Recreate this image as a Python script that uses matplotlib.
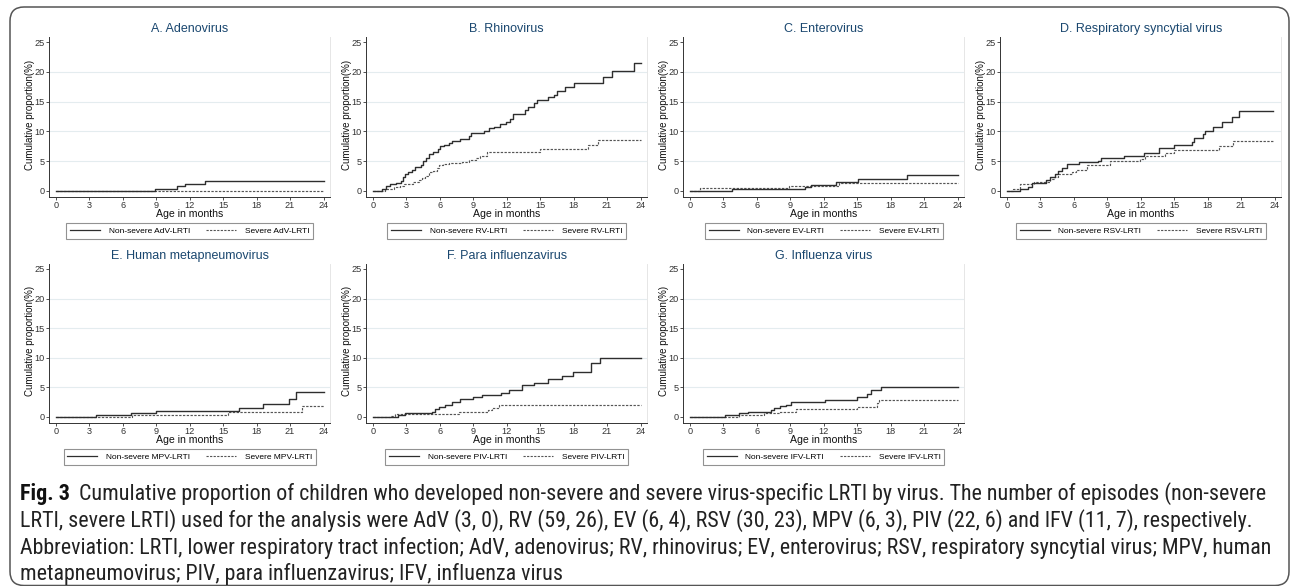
import matplotlib
matplotlib.use("Agg")
import matplotlib.pyplot as plt
from matplotlib import font_manager as fm
from matplotlib.patches import FancyBboxPatch
from matplotlib.lines import Line2D

# ---------------- data (step curves: time in months, cumulative %) ----------------
adv_ns_t = [0, 8.9, 10.9, 11.6, 13.4, 24.0]
adv_ns_y = [0, 0.4, 0.8, 1.1, 1.6, 1.6]
adv_s_t = [0, 24.0]
adv_s_y = [0, 0]

rv_ns_t = [0, 0.8, 1.2, 1.5, 2.1, 2.5, 2.7, 2.9, 3.1, 3.5, 3.8, 4.3, 4.5, 4.8, 5.0, 5.4, 5.8,
           6.0, 6.4, 6.8, 7.1, 7.8, 8.6, 8.8, 10.0, 10.4, 10.9, 11.4, 11.9, 12.3, 12.6, 13.6,
           13.9, 14.4, 14.7, 15.7, 16.2, 16.5, 17.2, 18.0, 20.6, 21.4, 23.4, 24.0]
rv_ns_y = [0, 0.3, 0.9, 1.1, 1.4, 1.7, 2.3, 2.8, 3.2, 3.6, 4.1, 4.4, 5.0, 5.6, 6.2, 6.6, 7.1,
           7.5, 7.8, 8.1, 8.4, 8.7, 9.3, 9.7, 10.1, 10.5, 10.8, 11.2, 11.6, 12.0, 12.9, 13.6,
           14.1, 14.8, 15.2, 15.7, 16.1, 16.8, 17.4, 18.2, 19.1, 20.1, 21.5, 21.5]
rv_s_t = [0, 1.1, 1.9, 2.4, 2.8, 3.6, 4.1, 4.4, 4.7, 5.0, 5.4, 5.7, 5.9, 6.3, 6.8, 8.0, 8.6,
          9.2, 9.6, 10.2, 15.0, 19.3, 20.2, 24.0]
rv_s_y = [0, 0.4, 0.6, 0.9, 1.2, 1.5, 1.8, 2.1, 2.5, 3.2, 3.4, 3.9, 4.3, 4.6, 4.7, 4.9, 5.2,
          5.5, 5.9, 6.5, 7.0, 7.7, 8.6, 8.6]

ev_ns_t = [0, 3.8, 10.3, 10.9, 13.1, 15.1, 19.5, 24.0]
ev_ns_y = [0, 0.3, 0.6, 1.0, 1.5, 2.0, 2.7, 2.7]
ev_s_t = [0, 0.9, 8.9, 13.4, 24.0]
ev_s_y = [0, 0.5, 0.8, 1.3, 1.3]

rsv_ns_t = [0, 1.2, 1.9, 2.2, 3.5, 3.9, 4.3, 4.6, 4.9, 5.4, 6.5, 8.2, 8.4, 10.5, 12.3, 13.6,
            15.0, 16.6, 16.8, 17.6, 17.8, 18.5, 19.3, 20.2, 20.8, 23.9]
rsv_ns_y = [0, 0.3, 0.6, 1.3, 1.8, 2.4, 2.9, 3.3, 3.9, 4.5, 4.8, 5.1, 5.5, 5.9, 6.3, 7.2,
            7.7, 8.3, 8.9, 9.5, 10.1, 10.8, 11.5, 12.4, 13.4, 13.4]
rsv_s_t = [0, 0.5, 1.2, 2.4, 3.9, 4.2, 4.6, 5.8, 6.2, 7.2, 9.2, 11.9, 12.4, 14.2, 15.0, 19.0,
           20.3, 23.9]
rsv_s_y = [0, 0.4, 1.2, 1.5, 2.0, 2.4, 2.8, 3.2, 3.6, 4.3, 5.0, 5.4, 5.9, 6.4, 6.9, 7.6,
           8.4, 8.4]

mpv_ns_t = [0, 3.6, 6.7, 9.0, 16.4, 18.6, 20.9, 21.5, 24.0]
mpv_ns_y = [0, 0.3, 0.6, 1.0, 1.5, 2.2, 3.1, 4.2, 4.2]
mpv_s_t = [0, 6.8, 15.4, 22.1, 24.0]
mpv_s_y = [0, 0.3, 0.8, 1.9, 1.9]

piv_ns_t = [0, 2.2, 2.9, 5.3, 5.6, 5.9, 6.5, 7.1, 7.8, 9.0, 9.8, 11.5, 12.2, 13.4, 14.4,
            15.7, 17.0, 17.9, 19.6, 20.4, 24.0]
piv_ns_y = [0, 0.3, 0.6, 0.9, 1.3, 1.7, 2.0, 2.5, 3.0, 3.3, 3.7, 4.1, 4.6, 5.4, 5.8,
            6.4, 6.9, 7.6, 9.2, 10.0, 10.0]
piv_s_t = [0, 1.5, 2.0, 7.7, 10.3, 10.7, 11.3, 24.0]
piv_s_y = [0, 0.2, 0.5, 0.8, 1.2, 1.5, 2.0, 2.0]

ifv_ns_t = [0, 3.1, 4.4, 5.2, 7.3, 7.5, 8.1, 8.6, 9.1, 12.1, 15.0, 15.9, 16.2, 17.1, 24.0]
ifv_ns_y = [0, 0.3, 0.6, 0.9, 1.1, 1.5, 1.8, 2.1, 2.5, 2.9, 3.4, 3.9, 4.5, 5.1, 5.1]
ifv_s_t = [0, 4.4, 6.6, 8.0, 9.5, 15.0, 16.8, 17.0, 24.0]
ifv_s_y = [0, 0.3, 0.6, 0.9, 1.3, 1.7, 2.3, 2.9, 2.9]

titles = ["A. Adenovirus", "B. Rhinovirus", "C. Enterovirus", "D. Respiratory syncytial virus",
          "E. Human metapneumovirus", "F. Para influenzavirus", "G. Influenza virus"]
abbrevs = ["AdV", "RV", "EV", "RSV", "MPV", "PIV", "IFV"]
x_ticks = [0, 3, 6, 9, 12, 15, 18, 21, 24]
y_ticks = [0, 5, 10, 15, 20, 25]
x_label = "Age in months"
y_label = "Cumulative proportion(%)"

caption_bold = "Fig. 3"
caption_lines = [
    "Cumulative proportion of children who developed non-severe and severe virus-specific LRTI by virus. The number of episodes (non-severe",
    "LRTI, severe LRTI) used for the analysis were AdV (3, 0), RV (59, 26), EV (6, 4), RSV (30, 23), MPV (6, 3), PIV (22, 6) and IFV (11, 7), respectively.",
    "Abbreviation: LRTI, lower respiratory tract infection; AdV, adenovirus; RV, rhinovirus; EV, enterovirus; RSV, respiratory syncytial virus; MPV, human",
    "metapneumovirus; PIV, para influenzavirus; IFV, influenza virus",
]

series = [
    (adv_ns_t, adv_ns_y, adv_s_t, adv_s_y),
    (rv_ns_t, rv_ns_y, rv_s_t, rv_s_y),
    (ev_ns_t, ev_ns_y, ev_s_t, ev_s_y),
    (rsv_ns_t, rsv_ns_y, rsv_s_t, rsv_s_y),
    (mpv_ns_t, mpv_ns_y, mpv_s_t, mpv_s_y),
    (piv_ns_t, piv_ns_y, piv_s_t, piv_s_y),
    (ifv_ns_t, ifv_ns_y, ifv_s_t, ifv_s_y),
]

# ---------------- style ----------------
plt.rcParams['font.family'] = ['Liberation Sans', 'DejaVu Sans']
W, H = 1293, 586
fig = plt.figure(figsize=(W / 100, H / 100), dpi=100)
fig.patch.set_facecolor("white")

# background pixel axes for frame and caption
bg = fig.add_axes([0, 0, 1, 1], zorder=-10)
bg.set_xlim(0, W)
bg.set_ylim(H, 0)
bg.axis("off")
bg.add_patch(FancyBboxPatch((10, 7), 1279, 578.5, boxstyle="round,pad=0,rounding_size=14",
                            fill=False, edgecolor="#555555", linewidth=1.1, clip_on=False))

title_color = "#1a476f"
solid_color = "#2e2e2e"
dash_color = "#555555"
spine_color = "#333333"
grid_color = "#e4ecef"

XL, XR = -0.63, 24.6
YB, YT = -1.0, 25.8
px_per_month = 267.5 / 24.0
px_per_pct = [149.0 / 25.0, 148.0 / 25.0]
x0_pix = [56, 373, 690, 1007]
y0_pix = [191, 417]

for i, (title, ab, (nt, ny, st, sy)) in enumerate(zip(titles, abbrevs, series)):
    r, c = divmod(i, 4)
    x0 = x0_pix[c]
    y0 = y0_pix[r]
    ppm = px_per_month
    ppp = px_per_pct[r]
    left = x0 + XL * ppm
    right = x0 + XR * ppm
    bottom = y0 - YB * ppp
    top = y0 - YT * ppp
    ax = fig.add_axes([left / W, 1 - bottom / H, (right - left) / W, (bottom - top) / H])
    ax.set_xlim(XL, XR)
    ax.set_ylim(YB, YT)
    for yv in [5, 10, 15, 20]:
        ax.axhline(yv, color=grid_color, lw=0.8, zorder=0)
    ax.step(st, sy, where="post", color=dash_color, lw=0.85, linestyle=(0, (2.0, 1.2)),
            label=f"Severe {ab}-LRTI", zorder=2)
    ax.step(nt, ny, where="post", color=solid_color, lw=1.0, linestyle="-",
            label=f"Non-severe {ab}-LRTI", zorder=3)
    ax.spines["top"].set_visible(False)
    ax.spines["right"].set_color("#e6e6e6")
    ax.spines["right"].set_linewidth(0.7)
    for s in ["left", "bottom"]:
        ax.spines[s].set_color(spine_color)
        ax.spines[s].set_linewidth(0.7)
    ax.set_xticks(x_ticks)
    ax.set_yticks(y_ticks)
    ax.tick_params(axis="both", direction="out", length=2.2, width=0.6, colors=spine_color,
                   labelsize=6.6, pad=1.0)
    axw = right - left
    axh = bottom - top
    cx = ((x0 + 12 * ppm) - left) / axw
    # title
    fig.text((x0 + 12 * ppm) / W, 1 - (y0 - 25 * ppp - 13) / H, title, ha="center", va="center",
             color=title_color, fontsize=9.0)
    # axis labels
    ax.text(cx, (bottom - (y0 + 23)) / axh, x_label, transform=ax.transAxes, ha="center",
            va="center", fontsize=7.6, color="#111111")
    ax.text((x0 - 26 - left) / axw, (bottom - (y0 - 76)) / axh, y_label, transform=ax.transAxes,
            ha="center", va="center", rotation=90, fontsize=7.0, color="#111111")
    # legend
    handles = [Line2D([], [], color=solid_color, lw=0.9),
               Line2D([], [], color=dash_color, lw=0.8, linestyle=(0, (2.0, 1.2)))]
    labels = [f"Non-severe {ab}-LRTI", f"Severe {ab}-LRTI"]
    leg = ax.legend(handles, labels, ncol=2, loc="center",
                    bbox_to_anchor=(cx, (bottom - (y0 + 40)) / axh),
                    fontsize=6.0, frameon=True, fancybox=False, handlelength=3.6,
                    handletextpad=1.0, columnspacing=2.0, borderpad=0.45, borderaxespad=0)
    leg.get_frame().set_edgecolor("#777777")
    leg.get_frame().set_linewidth(0.8)

# ---------------- caption ----------------
names = {f.name for f in fm.fontManager.ttflist}
cap_kw = {}
for cand in ["Liberation Sans Narrow", "DejaVu Sans Condensed", "Roboto Condensed",
             "Open Sans Condensed", "Noto Sans Condensed", "Arial Narrow"]:
    if cand in names:
        cap_kw = {"family": [cand, "DejaVu Sans"]}
        break
if not cap_kw:
    cond = [f for f in fm.fontManager.ttflist if f.name == "DejaVu Sans" and "Condensed" in f.fname]
    if cond:
        cap_kw = {"family": ["DejaVu Sans"], "stretch": "condensed"}
    else:
        cap_kw = {"family": ["Open Sans", "DejaVu Sans"]}

line_y = [494, 521, 548, 574]
x_start = 20
target_w = 1255
fs0 = 13.0
renderer = fig.canvas.get_renderer()

tb = bg.text(x_start, line_y[0], caption_bold, fontsize=fs0, fontweight="bold", va="center",
             ha="left", color="#111111", **cap_kw)
tl = [bg.text(x_start, y, s, fontsize=fs0, va="center", ha="left", color="#222222", **cap_kw)
      for s, y in zip(caption_lines, line_y)]


def layout(fs):
    tb.set_fontsize(fs)
    for t in tl:
        t.set_fontsize(fs)
    bw = tb.get_window_extent(renderer).width
    gap = fs * 0.55
    tl[0].set_x(x_start + bw + gap)
    return bw + gap + tl[0].get_window_extent(renderer).width


w = layout(fs0)
fs = fs0 * target_w / w
w = layout(fs)
fs = fs * target_w / w
layout(fs)

fig.savefig("out.png", dpi=100, facecolor="white")
